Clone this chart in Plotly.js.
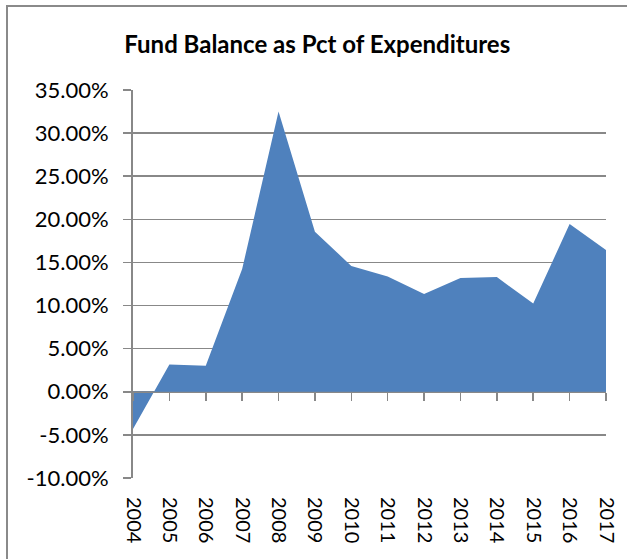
<!DOCTYPE html>
<html>
<head>
<meta charset="utf-8">
<script src="https://cdn.plot.ly/plotly-3.0.1.min.js"></script>
<style>
  html, body { margin: 0; padding: 0; background: #fff; }
  #wrap { position: relative; width: 627px; height: 559px; overflow: hidden; }
  #chart { position: absolute; left: 0; top: 0; width: 627px; height: 559px; }
  #frame { position: absolute; left: 6px; top: 5px; width: 700px; height: 700px;
           border-left: 2px solid #8a8a8a; border-top: 2px solid #8a8a8a; pointer-events: none; }
</style>
</head>
<body>
<div id="wrap">
  <div id="chart"></div>
  <div id="frame"></div>
</div>
<script>
const chartTitle = "Fund Balance as Pct of Expenditures";
const years = [2004, 2005, 2006, 2007, 2008, 2009, 2010, 2011, 2012, 2013, 2014, 2015, 2016, 2017];
const fundBalancePct = [-4.33, 3.17, 3.02, 14.23, 32.5, 18.56, 14.6, 13.38, 11.33, 13.2, 13.3, 10.24, 19.45, 16.44];
const yTicks = [-10, -5, 0, 5, 10, 15, 20, 25, 30, 35];

const gridColor = "#888888";
const fontFam = "Lato, 'Open Sans', sans-serif";

const trace = {
  x: years,
  y: fundBalancePct,
  type: "scatter",
  mode: "lines",
  fill: "tozeroy",
  fillcolor: "#4F81BD",
  line: { width: 0, color: "#4F81BD" },
  hoverinfo: "x+y"
};

const axisTrace = {
  x: years,
  y: fundBalancePct,
  xaxis: "x2",
  type: "scatter",
  mode: "none",
  hoverinfo: "skip",
  showlegend: false
};

const yMin = -10, yMax = 35;
const layout = {
  width: 627,
  height: 559,
  margin: { l: 133, r: 21, t: 90, b: 81, pad: 0 },
  paper_bgcolor: "#ffffff",
  plot_bgcolor: "#ffffff",
  showlegend: false,
  title: {
    text: "<b>" + chartTitle + "</b>",
    font: { family: fontFam, size: 24, color: "#000" },
    x: 0.506, xref: "container", xanchor: "center",
    y: 0.921, yref: "container", yanchor: "middle"
  },
  xaxis: {
    range: [years[0], years[years.length - 1]],
    tickmode: "array",
    tickvals: years,
    ticktext: years.map(String),
    tickangle: 90,
    ticks: "",
    showgrid: false,
    zeroline: false,
    showline: false,
    tickfont: { family: fontFam, size: 20, color: "#000" },
    ticklabelstandoff: 18
  },
  xaxis2: {
    overlaying: "x",
    anchor: "free",
    position: (0 - yMin) / (yMax - yMin),
    side: "bottom",
    range: [years[0], years[years.length - 1]],
    tickmode: "array",
    tickvals: years,
    ticks: "outside",
    ticklen: 8,
    tickwidth: 1.5,
    tickcolor: gridColor,
    showticklabels: false,
    showgrid: false,
    zeroline: false,
    showline: true,
    linecolor: gridColor,
    linewidth: 1.5
  },
  yaxis: {
    range: [yMin, yMax],
    tickmode: "array",
    tickvals: yTicks,
    ticktext: yTicks.map(v => v.toFixed(2) + "%"),
    ticks: "outside",
    ticklen: 8,
    tickwidth: 1.5,
    tickcolor: gridColor,
    showgrid: true,
    gridcolor: gridColor,
    gridwidth: 1.5,
    zeroline: false,
    showline: true,
    linecolor: gridColor,
    linewidth: 2,
    tickfont: { family: fontFam, size: 22, color: "#000" },
    ticklabelstandoff: 10
  }
};

Plotly.newPlot("chart", [trace, axisTrace], layout, { displayModeBar: false, staticPlot: true });
</script>
</body>
</html>
